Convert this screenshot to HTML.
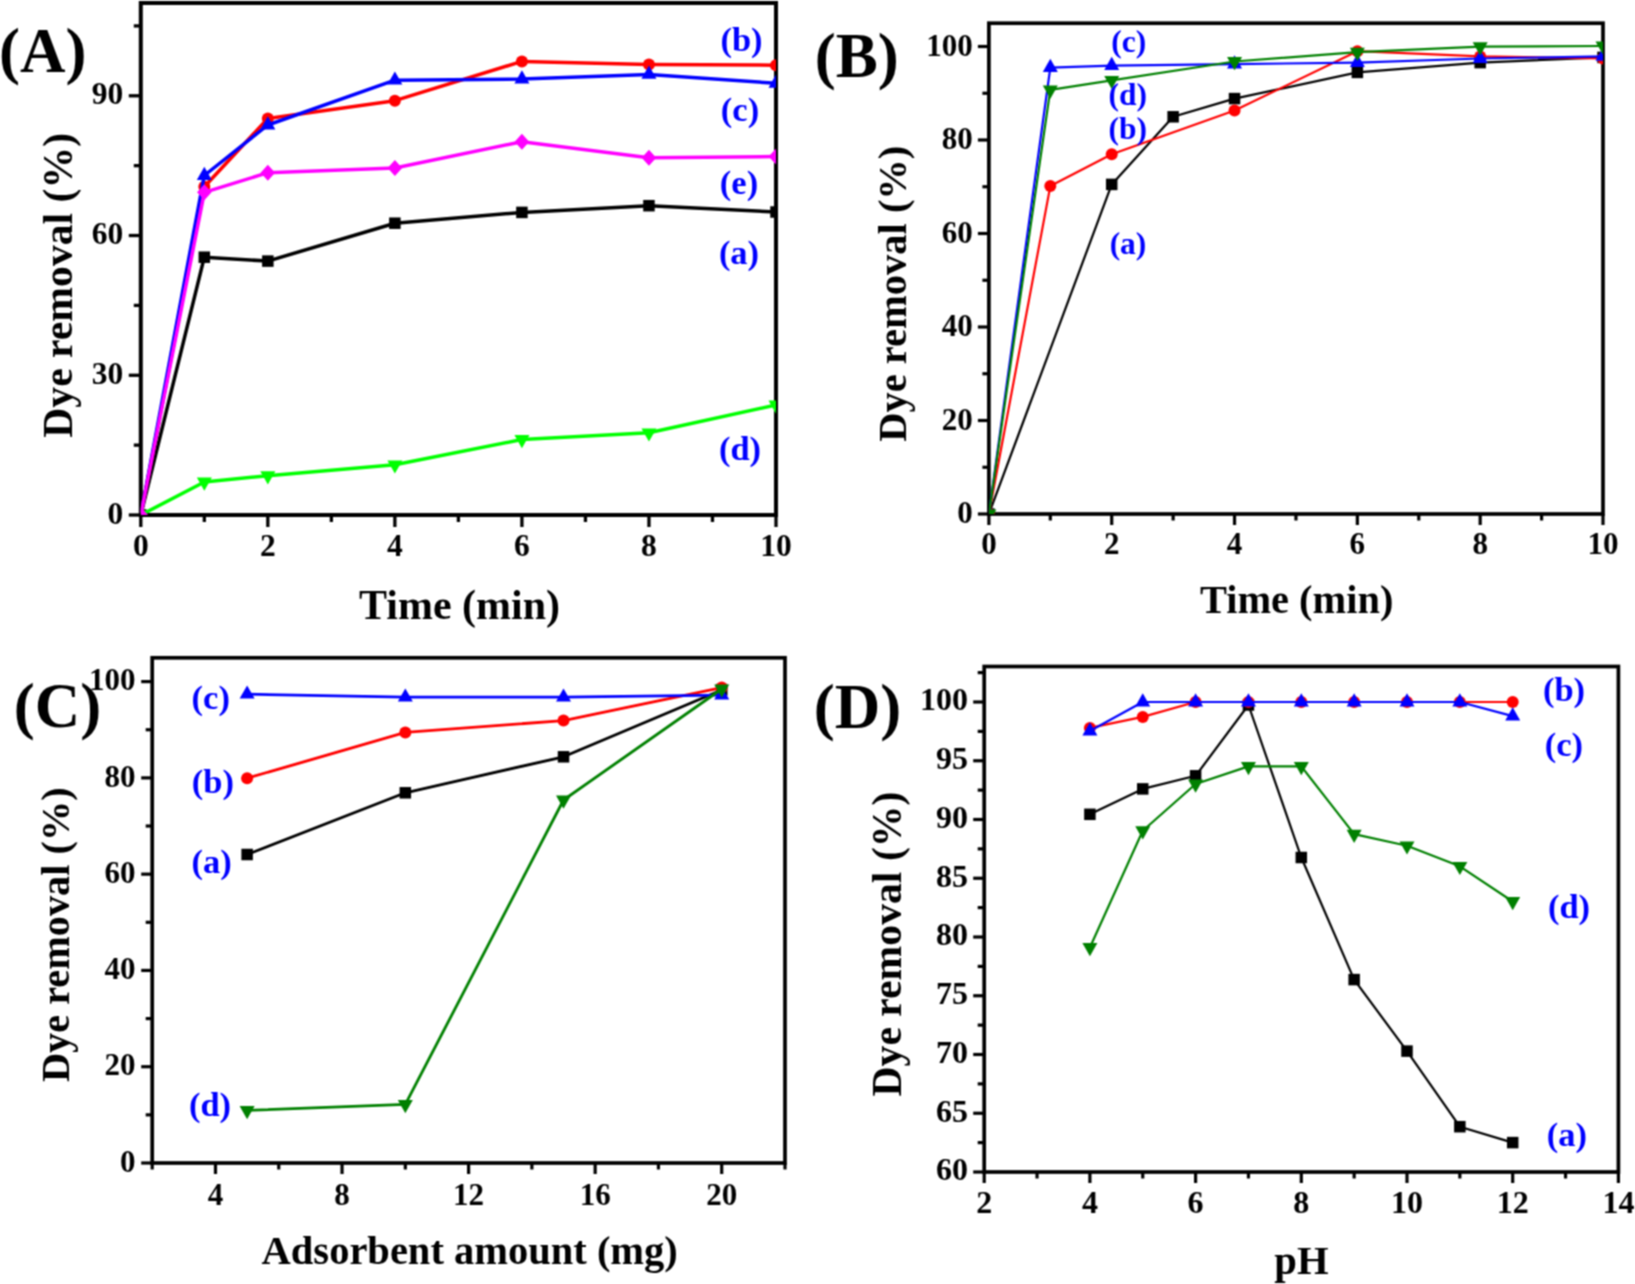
<!DOCTYPE html>
<html><head><meta charset="utf-8"><title>Dye removal</title>
<style>html,body{margin:0;padding:0;background:#fff;} svg{display:block;} text{font-family:"Liberation Serif","Times New Roman",serif;font-weight:bold;}</style>
</head><body>
<svg width="1635" height="1284" viewBox="0 0 1635 1284" font-family="Liberation Serif, Times New Roman, serif" font-weight="bold">
<defs><filter id="soft" x="0" y="0" width="1635" height="1284" filterUnits="userSpaceOnUse" color-interpolation-filters="sRGB"><feConvolveMatrix order="3" kernelMatrix="1 2 1 2 4 2 1 2 1" edgeMode="duplicate"/></filter></defs><rect width="1635" height="1284" fill="#fff"/><g filter="url(#soft)"><clipPath id="clipA"><rect x="140.8" y="3.0" width="635.2" height="512.0"/></clipPath>
<rect x="140.8" y="3.0" width="635.2" height="512.0" fill="none" stroke="#000" stroke-width="4.0" stroke-linejoin="miter"/>
<g clip-path="url(#clipA)">
<polyline points="140.80,515.00 204.32,257.20 267.84,261.10 394.88,223.20 521.92,212.40 648.96,205.70 776.00,212.00" fill="none" stroke="#000000" stroke-width="3.5" stroke-linejoin="round"/>
<rect x="135.05" y="509.25" width="11.50" height="11.50" fill="#000000"/>
<rect x="198.57" y="251.45" width="11.50" height="11.50" fill="#000000"/>
<rect x="262.09" y="255.35" width="11.50" height="11.50" fill="#000000"/>
<rect x="389.13" y="217.45" width="11.50" height="11.50" fill="#000000"/>
<rect x="516.17" y="206.65" width="11.50" height="11.50" fill="#000000"/>
<rect x="643.21" y="199.95" width="11.50" height="11.50" fill="#000000"/>
<rect x="770.25" y="206.25" width="11.50" height="11.50" fill="#000000"/>
<polyline points="140.80,515.00 204.32,186.70 267.84,118.50 394.88,100.70 521.92,61.40 648.96,64.40 776.00,65.20" fill="none" stroke="#FF0000" stroke-width="3.5" stroke-linejoin="round"/>
<circle cx="140.80" cy="515.00" r="6.00" fill="#FF0000"/>
<circle cx="204.32" cy="186.70" r="6.00" fill="#FF0000"/>
<circle cx="267.84" cy="118.50" r="6.00" fill="#FF0000"/>
<circle cx="394.88" cy="100.70" r="6.00" fill="#FF0000"/>
<circle cx="521.92" cy="61.40" r="6.00" fill="#FF0000"/>
<circle cx="648.96" cy="64.40" r="6.00" fill="#FF0000"/>
<circle cx="776.00" cy="65.20" r="6.00" fill="#FF0000"/>
<polyline points="140.80,515.00 204.32,175.50 267.84,125.00 394.88,80.20 521.92,79.10 648.96,74.40 776.00,83.30" fill="none" stroke="#0000FF" stroke-width="3.5" stroke-linejoin="round"/>
<polygon points="140.80,506.20 148.30,519.40 133.30,519.40" fill="#0000FF"/>
<polygon points="204.32,166.70 211.82,179.90 196.82,179.90" fill="#0000FF"/>
<polygon points="267.84,116.20 275.34,129.40 260.34,129.40" fill="#0000FF"/>
<polygon points="394.88,71.40 402.38,84.60 387.38,84.60" fill="#0000FF"/>
<polygon points="521.92,70.30 529.42,83.50 514.42,83.50" fill="#0000FF"/>
<polygon points="648.96,65.60 656.46,78.80 641.46,78.80" fill="#0000FF"/>
<polygon points="776.00,74.50 783.50,87.70 768.50,87.70" fill="#0000FF"/>
<polyline points="140.80,515.00 204.32,482.00 267.84,475.70 394.88,464.80 521.92,439.50 648.96,432.80 776.00,405.00" fill="none" stroke="#00FF00" stroke-width="3.5" stroke-linejoin="round"/>
<polygon points="140.80,523.80 148.30,510.60 133.30,510.60" fill="#00FF00"/>
<polygon points="204.32,490.80 211.82,477.60 196.82,477.60" fill="#00FF00"/>
<polygon points="267.84,484.50 275.34,471.30 260.34,471.30" fill="#00FF00"/>
<polygon points="394.88,473.60 402.38,460.40 387.38,460.40" fill="#00FF00"/>
<polygon points="521.92,448.30 529.42,435.10 514.42,435.10" fill="#00FF00"/>
<polygon points="648.96,441.60 656.46,428.40 641.46,428.40" fill="#00FF00"/>
<polygon points="776.00,413.80 783.50,400.60 768.50,400.60" fill="#00FF00"/>
<polyline points="140.80,515.00 204.32,192.30 267.84,172.70 394.88,168.00 521.92,141.70 648.96,157.70 776.00,156.50" fill="none" stroke="#FF00FF" stroke-width="3.5" stroke-linejoin="round"/>
<polygon points="140.80,507.00 148.05,515.00 140.80,523.00 133.55,515.00" fill="#FF00FF"/>
<polygon points="204.32,184.30 211.57,192.30 204.32,200.30 197.07,192.30" fill="#FF00FF"/>
<polygon points="267.84,164.70 275.09,172.70 267.84,180.70 260.59,172.70" fill="#FF00FF"/>
<polygon points="394.88,160.00 402.13,168.00 394.88,176.00 387.63,168.00" fill="#FF00FF"/>
<polygon points="521.92,133.70 529.17,141.70 521.92,149.70 514.67,141.70" fill="#FF00FF"/>
<polygon points="648.96,149.70 656.21,157.70 648.96,165.70 641.71,157.70" fill="#FF00FF"/>
<polygon points="776.00,148.50 783.25,156.50 776.00,164.50 768.75,156.50" fill="#FF00FF"/>
</g>
<line x1="140.80" y1="515.00" x2="140.80" y2="527.00" stroke="#000" stroke-width="3.3"/>
<line x1="204.32" y1="515.00" x2="204.32" y2="522.00" stroke="#000" stroke-width="3.3"/>
<line x1="267.84" y1="515.00" x2="267.84" y2="527.00" stroke="#000" stroke-width="3.3"/>
<line x1="331.36" y1="515.00" x2="331.36" y2="522.00" stroke="#000" stroke-width="3.3"/>
<line x1="394.88" y1="515.00" x2="394.88" y2="527.00" stroke="#000" stroke-width="3.3"/>
<line x1="458.40" y1="515.00" x2="458.40" y2="522.00" stroke="#000" stroke-width="3.3"/>
<line x1="521.92" y1="515.00" x2="521.92" y2="527.00" stroke="#000" stroke-width="3.3"/>
<line x1="585.44" y1="515.00" x2="585.44" y2="522.00" stroke="#000" stroke-width="3.3"/>
<line x1="648.96" y1="515.00" x2="648.96" y2="527.00" stroke="#000" stroke-width="3.3"/>
<line x1="712.48" y1="515.00" x2="712.48" y2="522.00" stroke="#000" stroke-width="3.3"/>
<line x1="776.00" y1="515.00" x2="776.00" y2="527.00" stroke="#000" stroke-width="3.3"/>
<line x1="140.80" y1="515.00" x2="128.80" y2="515.00" stroke="#000" stroke-width="3.3"/>
<line x1="140.80" y1="445.13" x2="133.80" y2="445.13" stroke="#000" stroke-width="3.3"/>
<line x1="140.80" y1="375.27" x2="128.80" y2="375.27" stroke="#000" stroke-width="3.3"/>
<line x1="140.80" y1="305.40" x2="133.80" y2="305.40" stroke="#000" stroke-width="3.3"/>
<line x1="140.80" y1="235.53" x2="128.80" y2="235.53" stroke="#000" stroke-width="3.3"/>
<line x1="140.80" y1="165.67" x2="133.80" y2="165.67" stroke="#000" stroke-width="3.3"/>
<line x1="140.80" y1="95.80" x2="128.80" y2="95.80" stroke="#000" stroke-width="3.3"/>
<line x1="140.80" y1="25.93" x2="133.80" y2="25.93" stroke="#000" stroke-width="3.3"/>
<text x="140.80" y="555.50" font-size="31.5" fill="#000" text-anchor="middle" >0</text>
<text x="267.84" y="555.50" font-size="31.5" fill="#000" text-anchor="middle" >2</text>
<text x="394.88" y="555.50" font-size="31.5" fill="#000" text-anchor="middle" >4</text>
<text x="521.92" y="555.50" font-size="31.5" fill="#000" text-anchor="middle" >6</text>
<text x="648.96" y="555.50" font-size="31.5" fill="#000" text-anchor="middle" >8</text>
<text x="776.00" y="555.50" font-size="31.5" fill="#000" text-anchor="middle" >10</text>
<text x="123.30" y="523.50" font-size="31.5" fill="#000" text-anchor="end" >0</text>
<text x="123.30" y="383.77" font-size="31.5" fill="#000" text-anchor="end" >30</text>
<text x="123.30" y="244.03" font-size="31.5" fill="#000" text-anchor="end" >60</text>
<text x="123.30" y="104.30" font-size="31.5" fill="#000" text-anchor="end" >90</text>
<text x="-1.10" y="72.00" font-size="63" fill="#000" text-anchor="start" >(A)</text>
<text x="359.00" y="618.50" font-size="42" fill="#000" text-anchor="start" >Time (min)</text>
<text x="72.20" y="437.80" font-size="41.7" fill="#000" text-anchor="start" transform="rotate(-90 72.2 437.8)">Dye removal (%)</text>
<text x="741.50" y="51.00" font-size="34.5" fill="#0000FF" text-anchor="middle" >(b)</text>
<text x="740.00" y="121.00" font-size="34.5" fill="#0000FF" text-anchor="middle" >(c)</text>
<text x="739.00" y="194.00" font-size="34.5" fill="#0000FF" text-anchor="middle" >(e)</text>
<text x="739.00" y="264.00" font-size="34.5" fill="#0000FF" text-anchor="middle" >(a)</text>
<text x="740.00" y="460.00" font-size="34.5" fill="#0000FF" text-anchor="middle" >(d)</text>
<clipPath id="clipB"><rect x="988.9" y="23.2" width="614.1" height="490.8"/></clipPath>
<rect x="988.9" y="23.2" width="614.1" height="490.8" fill="none" stroke="#000" stroke-width="3.7" stroke-linejoin="miter"/>
<g clip-path="url(#clipB)">
<polyline points="988.90,514.00 1111.72,184.40 1173.13,116.80 1234.54,98.60 1357.36,72.40 1480.18,62.60 1603.00,57.40" fill="none" stroke="#000000" stroke-width="2.2" stroke-linejoin="round"/>
<rect x="983.15" y="508.25" width="11.50" height="11.50" fill="#000000"/>
<rect x="1105.97" y="178.65" width="11.50" height="11.50" fill="#000000"/>
<rect x="1167.38" y="111.05" width="11.50" height="11.50" fill="#000000"/>
<rect x="1228.79" y="92.85" width="11.50" height="11.50" fill="#000000"/>
<rect x="1351.61" y="66.65" width="11.50" height="11.50" fill="#000000"/>
<rect x="1474.43" y="56.85" width="11.50" height="11.50" fill="#000000"/>
<rect x="1597.25" y="51.65" width="11.50" height="11.50" fill="#000000"/>
<polyline points="988.90,514.00 1050.31,186.10 1111.72,154.30 1234.54,110.50 1357.36,51.20 1480.18,56.40 1603.00,58.50" fill="none" stroke="#FF0000" stroke-width="2.2" stroke-linejoin="round"/>
<circle cx="988.90" cy="514.00" r="6.00" fill="#FF0000"/>
<circle cx="1050.31" cy="186.10" r="6.00" fill="#FF0000"/>
<circle cx="1111.72" cy="154.30" r="6.00" fill="#FF0000"/>
<circle cx="1234.54" cy="110.50" r="6.00" fill="#FF0000"/>
<circle cx="1357.36" cy="51.20" r="6.00" fill="#FF0000"/>
<circle cx="1480.18" cy="56.40" r="6.00" fill="#FF0000"/>
<circle cx="1603.00" cy="58.50" r="6.00" fill="#FF0000"/>
<polyline points="988.90,514.00 1050.31,67.60 1111.72,65.60 1234.54,64.10 1357.36,62.60 1480.18,58.50 1603.00,56.40" fill="none" stroke="#0000FF" stroke-width="2.2" stroke-linejoin="round"/>
<polygon points="988.90,505.20 996.40,518.40 981.40,518.40" fill="#0000FF"/>
<polygon points="1050.31,58.80 1057.81,72.00 1042.81,72.00" fill="#0000FF"/>
<polygon points="1111.72,56.80 1119.22,70.00 1104.22,70.00" fill="#0000FF"/>
<polygon points="1234.54,55.30 1242.04,68.50 1227.04,68.50" fill="#0000FF"/>
<polygon points="1357.36,53.80 1364.86,67.00 1349.86,67.00" fill="#0000FF"/>
<polygon points="1480.18,49.70 1487.68,62.90 1472.68,62.90" fill="#0000FF"/>
<polygon points="1603.00,47.60 1610.50,60.80 1595.50,60.80" fill="#0000FF"/>
<polyline points="988.90,514.00 1050.31,89.90 1111.72,80.30 1234.54,61.50 1357.36,52.20 1480.18,46.60 1603.00,46.00" fill="none" stroke="#008000" stroke-width="2.2" stroke-linejoin="round"/>
<polygon points="988.90,522.80 996.40,509.60 981.40,509.60" fill="#008000"/>
<polygon points="1050.31,98.70 1057.81,85.50 1042.81,85.50" fill="#008000"/>
<polygon points="1111.72,89.10 1119.22,75.90 1104.22,75.90" fill="#008000"/>
<polygon points="1234.54,70.30 1242.04,57.10 1227.04,57.10" fill="#008000"/>
<polygon points="1357.36,61.00 1364.86,47.80 1349.86,47.80" fill="#008000"/>
<polygon points="1480.18,55.40 1487.68,42.20 1472.68,42.20" fill="#008000"/>
<polygon points="1603.00,54.80 1610.50,41.60 1595.50,41.60" fill="#008000"/>
</g>
<line x1="988.90" y1="514.00" x2="988.90" y2="525.00" stroke="#000" stroke-width="3.2"/>
<line x1="1050.31" y1="514.00" x2="1050.31" y2="520.50" stroke="#000" stroke-width="3.2"/>
<line x1="1111.72" y1="514.00" x2="1111.72" y2="525.00" stroke="#000" stroke-width="3.2"/>
<line x1="1173.13" y1="514.00" x2="1173.13" y2="520.50" stroke="#000" stroke-width="3.2"/>
<line x1="1234.54" y1="514.00" x2="1234.54" y2="525.00" stroke="#000" stroke-width="3.2"/>
<line x1="1295.95" y1="514.00" x2="1295.95" y2="520.50" stroke="#000" stroke-width="3.2"/>
<line x1="1357.36" y1="514.00" x2="1357.36" y2="525.00" stroke="#000" stroke-width="3.2"/>
<line x1="1418.77" y1="514.00" x2="1418.77" y2="520.50" stroke="#000" stroke-width="3.2"/>
<line x1="1480.18" y1="514.00" x2="1480.18" y2="525.00" stroke="#000" stroke-width="3.2"/>
<line x1="1541.59" y1="514.00" x2="1541.59" y2="520.50" stroke="#000" stroke-width="3.2"/>
<line x1="1603.00" y1="514.00" x2="1603.00" y2="525.00" stroke="#000" stroke-width="3.2"/>
<line x1="988.90" y1="514.00" x2="977.90" y2="514.00" stroke="#000" stroke-width="3.2"/>
<line x1="988.90" y1="467.25" x2="982.40" y2="467.25" stroke="#000" stroke-width="3.2"/>
<line x1="988.90" y1="420.50" x2="977.90" y2="420.50" stroke="#000" stroke-width="3.2"/>
<line x1="988.90" y1="373.75" x2="982.40" y2="373.75" stroke="#000" stroke-width="3.2"/>
<line x1="988.90" y1="327.00" x2="977.90" y2="327.00" stroke="#000" stroke-width="3.2"/>
<line x1="988.90" y1="280.25" x2="982.40" y2="280.25" stroke="#000" stroke-width="3.2"/>
<line x1="988.90" y1="233.50" x2="977.90" y2="233.50" stroke="#000" stroke-width="3.2"/>
<line x1="988.90" y1="186.75" x2="982.40" y2="186.75" stroke="#000" stroke-width="3.2"/>
<line x1="988.90" y1="140.00" x2="977.90" y2="140.00" stroke="#000" stroke-width="3.2"/>
<line x1="988.90" y1="93.25" x2="982.40" y2="93.25" stroke="#000" stroke-width="3.2"/>
<line x1="988.90" y1="46.50" x2="977.90" y2="46.50" stroke="#000" stroke-width="3.2"/>
<text x="988.90" y="554.00" font-size="31" fill="#000" text-anchor="middle" >0</text>
<text x="1111.72" y="554.00" font-size="31" fill="#000" text-anchor="middle" >2</text>
<text x="1234.54" y="554.00" font-size="31" fill="#000" text-anchor="middle" >4</text>
<text x="1357.36" y="554.00" font-size="31" fill="#000" text-anchor="middle" >6</text>
<text x="1480.18" y="554.00" font-size="31" fill="#000" text-anchor="middle" >8</text>
<text x="1603.00" y="554.00" font-size="31" fill="#000" text-anchor="middle" >10</text>
<text x="972.70" y="523.30" font-size="31" fill="#000" text-anchor="end" >0</text>
<text x="972.70" y="429.80" font-size="31" fill="#000" text-anchor="end" >20</text>
<text x="972.70" y="336.30" font-size="31" fill="#000" text-anchor="end" >40</text>
<text x="972.70" y="242.80" font-size="31" fill="#000" text-anchor="end" >60</text>
<text x="972.70" y="149.30" font-size="31" fill="#000" text-anchor="end" >80</text>
<text x="972.70" y="55.80" font-size="31" fill="#000" text-anchor="end" >100</text>
<text x="814.80" y="77.30" font-size="63" fill="#000" text-anchor="start" >(B)</text>
<text x="1200.00" y="613.00" font-size="40.4" fill="#000" text-anchor="start" >Time (min)</text>
<text x="906.30" y="441.80" font-size="40.5" fill="#000" text-anchor="start" transform="rotate(-90 906.3 441.8)">Dye removal (%)</text>
<text x="1128.70" y="52.00" font-size="31.5" fill="#0000FF" text-anchor="middle" >(c)</text>
<text x="1127.70" y="105.00" font-size="31.5" fill="#0000FF" text-anchor="middle" >(d)</text>
<text x="1127.70" y="139.00" font-size="31.5" fill="#0000FF" text-anchor="middle" >(b)</text>
<text x="1128.00" y="254.00" font-size="31.5" fill="#0000FF" text-anchor="middle" >(a)</text>
<clipPath id="clipC"><rect x="152.2" y="657.8" width="632.8" height="505.20000000000005"/></clipPath>
<rect x="152.2" y="657.8" width="632.8" height="505.20000000000005" fill="none" stroke="#000" stroke-width="3.7" stroke-linejoin="miter"/>
<g clip-path="url(#clipC)">
<polyline points="247.12,854.50 405.32,792.80 563.52,756.80 721.72,690.00" fill="none" stroke="#000000" stroke-width="2.8" stroke-linejoin="round"/>
<rect x="241.37" y="848.75" width="11.50" height="11.50" fill="#000000"/>
<rect x="399.57" y="787.05" width="11.50" height="11.50" fill="#000000"/>
<rect x="557.77" y="751.05" width="11.50" height="11.50" fill="#000000"/>
<rect x="715.97" y="684.25" width="11.50" height="11.50" fill="#000000"/>
<polyline points="247.12,778.20 405.32,732.40 563.52,720.60 721.72,687.60" fill="none" stroke="#FF0000" stroke-width="2.8" stroke-linejoin="round"/>
<circle cx="247.12" cy="778.20" r="6.00" fill="#FF0000"/>
<circle cx="405.32" cy="732.40" r="6.00" fill="#FF0000"/>
<circle cx="563.52" cy="720.60" r="6.00" fill="#FF0000"/>
<circle cx="721.72" cy="687.60" r="6.00" fill="#FF0000"/>
<polyline points="247.12,694.20 405.32,697.20 563.52,697.20 721.72,695.20" fill="none" stroke="#0000FF" stroke-width="2.8" stroke-linejoin="round"/>
<polygon points="247.12,685.40 254.62,698.60 239.62,698.60" fill="#0000FF"/>
<polygon points="405.32,688.40 412.82,701.60 397.82,701.60" fill="#0000FF"/>
<polygon points="563.52,688.40 571.02,701.60 556.02,701.60" fill="#0000FF"/>
<polygon points="721.72,686.40 729.22,699.60 714.22,699.60" fill="#0000FF"/>
<polyline points="247.12,1110.40 405.32,1104.40 563.52,800.00 721.72,689.00" fill="none" stroke="#008000" stroke-width="2.8" stroke-linejoin="round"/>
<polygon points="247.12,1119.20 254.62,1106.00 239.62,1106.00" fill="#008000"/>
<polygon points="405.32,1113.20 412.82,1100.00 397.82,1100.00" fill="#008000"/>
<polygon points="563.52,808.80 571.02,795.60 556.02,795.60" fill="#008000"/>
<polygon points="721.72,697.80 729.22,684.60 714.22,684.60" fill="#008000"/>
</g>
<line x1="152.20" y1="1163.00" x2="152.20" y2="1169.50" stroke="#000" stroke-width="3.2"/>
<line x1="215.48" y1="1163.00" x2="215.48" y2="1174.00" stroke="#000" stroke-width="3.2"/>
<line x1="278.76" y1="1163.00" x2="278.76" y2="1169.50" stroke="#000" stroke-width="3.2"/>
<line x1="342.04" y1="1163.00" x2="342.04" y2="1174.00" stroke="#000" stroke-width="3.2"/>
<line x1="405.32" y1="1163.00" x2="405.32" y2="1169.50" stroke="#000" stroke-width="3.2"/>
<line x1="468.60" y1="1163.00" x2="468.60" y2="1174.00" stroke="#000" stroke-width="3.2"/>
<line x1="531.88" y1="1163.00" x2="531.88" y2="1169.50" stroke="#000" stroke-width="3.2"/>
<line x1="595.16" y1="1163.00" x2="595.16" y2="1174.00" stroke="#000" stroke-width="3.2"/>
<line x1="658.44" y1="1163.00" x2="658.44" y2="1169.50" stroke="#000" stroke-width="3.2"/>
<line x1="721.72" y1="1163.00" x2="721.72" y2="1174.00" stroke="#000" stroke-width="3.2"/>
<line x1="785.00" y1="1163.00" x2="785.00" y2="1169.50" stroke="#000" stroke-width="3.2"/>
<line x1="152.20" y1="1163.00" x2="141.20" y2="1163.00" stroke="#000" stroke-width="3.2"/>
<line x1="152.20" y1="1114.86" x2="145.70" y2="1114.86" stroke="#000" stroke-width="3.2"/>
<line x1="152.20" y1="1066.72" x2="141.20" y2="1066.72" stroke="#000" stroke-width="3.2"/>
<line x1="152.20" y1="1018.58" x2="145.70" y2="1018.58" stroke="#000" stroke-width="3.2"/>
<line x1="152.20" y1="970.44" x2="141.20" y2="970.44" stroke="#000" stroke-width="3.2"/>
<line x1="152.20" y1="922.30" x2="145.70" y2="922.30" stroke="#000" stroke-width="3.2"/>
<line x1="152.20" y1="874.16" x2="141.20" y2="874.16" stroke="#000" stroke-width="3.2"/>
<line x1="152.20" y1="826.02" x2="145.70" y2="826.02" stroke="#000" stroke-width="3.2"/>
<line x1="152.20" y1="777.88" x2="141.20" y2="777.88" stroke="#000" stroke-width="3.2"/>
<line x1="152.20" y1="729.74" x2="145.70" y2="729.74" stroke="#000" stroke-width="3.2"/>
<line x1="152.20" y1="681.60" x2="141.20" y2="681.60" stroke="#000" stroke-width="3.2"/>
<text x="215.48" y="1204.50" font-size="31" fill="#000" text-anchor="middle" >4</text>
<text x="342.04" y="1204.50" font-size="31" fill="#000" text-anchor="middle" >8</text>
<text x="468.60" y="1204.50" font-size="31" fill="#000" text-anchor="middle" >12</text>
<text x="595.16" y="1204.50" font-size="31" fill="#000" text-anchor="middle" >16</text>
<text x="721.72" y="1204.50" font-size="31" fill="#000" text-anchor="middle" >20</text>
<text x="135.40" y="1171.70" font-size="31" fill="#000" text-anchor="end" >0</text>
<text x="135.40" y="1075.42" font-size="31" fill="#000" text-anchor="end" >20</text>
<text x="135.40" y="979.14" font-size="31" fill="#000" text-anchor="end" >40</text>
<text x="135.40" y="882.86" font-size="31" fill="#000" text-anchor="end" >60</text>
<text x="135.40" y="786.58" font-size="31" fill="#000" text-anchor="end" >80</text>
<text x="135.40" y="690.30" font-size="31" fill="#000" text-anchor="end" >100</text>
<text x="13.80" y="726.90" font-size="63" fill="#000" text-anchor="start" >(C)</text>
<text x="261.60" y="1264.00" font-size="40.5" fill="#000" text-anchor="start" >Adsorbent amount (mg)</text>
<text x="68.60" y="1082.00" font-size="40.3" fill="#000" text-anchor="start" transform="rotate(-90 68.6 1082.0)">Dye removal (%)</text>
<text x="210.75" y="709.00" font-size="34.5" fill="#0000FF" text-anchor="middle" >(c)</text>
<text x="212.80" y="792.90" font-size="34.5" fill="#0000FF" text-anchor="middle" >(b)</text>
<text x="211.60" y="873.40" font-size="34.5" fill="#0000FF" text-anchor="middle" >(a)</text>
<text x="210.00" y="1116.30" font-size="34.5" fill="#0000FF" text-anchor="middle" >(d)</text>
<clipPath id="clipD"><rect x="984.2" y="666.5" width="634.2" height="505.5"/></clipPath>
<rect x="984.2" y="666.5" width="634.2" height="505.5" fill="none" stroke="#000" stroke-width="3.7" stroke-linejoin="miter"/>
<g clip-path="url(#clipD)">
<polyline points="1089.90,814.30 1142.75,788.90 1195.60,775.80 1248.45,705.00 1301.30,857.50 1354.15,979.60 1407.00,1051.10 1459.85,1126.70 1512.70,1142.60" fill="none" stroke="#000000" stroke-width="2.2" stroke-linejoin="round"/>
<rect x="1084.15" y="808.55" width="11.50" height="11.50" fill="#000000"/>
<rect x="1137.00" y="783.15" width="11.50" height="11.50" fill="#000000"/>
<rect x="1189.85" y="770.05" width="11.50" height="11.50" fill="#000000"/>
<rect x="1242.70" y="699.25" width="11.50" height="11.50" fill="#000000"/>
<rect x="1295.55" y="851.75" width="11.50" height="11.50" fill="#000000"/>
<rect x="1348.40" y="973.85" width="11.50" height="11.50" fill="#000000"/>
<rect x="1401.25" y="1045.35" width="11.50" height="11.50" fill="#000000"/>
<rect x="1454.10" y="1120.95" width="11.50" height="11.50" fill="#000000"/>
<rect x="1506.95" y="1136.85" width="11.50" height="11.50" fill="#000000"/>
<polyline points="1089.90,727.90 1142.75,716.90 1195.60,702.00 1248.45,702.00 1301.30,702.00 1354.15,702.00 1407.00,702.00 1459.85,702.00 1512.70,702.00" fill="none" stroke="#FF0000" stroke-width="2.2" stroke-linejoin="round"/>
<circle cx="1089.90" cy="727.90" r="6.00" fill="#FF0000"/>
<circle cx="1142.75" cy="716.90" r="6.00" fill="#FF0000"/>
<circle cx="1195.60" cy="702.00" r="6.00" fill="#FF0000"/>
<circle cx="1248.45" cy="702.00" r="6.00" fill="#FF0000"/>
<circle cx="1301.30" cy="702.00" r="6.00" fill="#FF0000"/>
<circle cx="1354.15" cy="702.00" r="6.00" fill="#FF0000"/>
<circle cx="1407.00" cy="702.00" r="6.00" fill="#FF0000"/>
<circle cx="1459.85" cy="702.00" r="6.00" fill="#FF0000"/>
<circle cx="1512.70" cy="702.00" r="6.00" fill="#FF0000"/>
<polyline points="1089.90,731.00 1142.75,702.00 1195.60,702.00 1248.45,702.00 1301.30,702.00 1354.15,702.00 1407.00,702.00 1459.85,702.00 1512.70,716.10" fill="none" stroke="#0000FF" stroke-width="2.2" stroke-linejoin="round"/>
<polygon points="1089.90,722.20 1097.40,735.40 1082.40,735.40" fill="#0000FF"/>
<polygon points="1142.75,693.20 1150.25,706.40 1135.25,706.40" fill="#0000FF"/>
<polygon points="1195.60,693.20 1203.10,706.40 1188.10,706.40" fill="#0000FF"/>
<polygon points="1248.45,693.20 1255.95,706.40 1240.95,706.40" fill="#0000FF"/>
<polygon points="1301.30,693.20 1308.80,706.40 1293.80,706.40" fill="#0000FF"/>
<polygon points="1354.15,693.20 1361.65,706.40 1346.65,706.40" fill="#0000FF"/>
<polygon points="1407.00,693.20 1414.50,706.40 1399.50,706.40" fill="#0000FF"/>
<polygon points="1459.85,693.20 1467.35,706.40 1452.35,706.40" fill="#0000FF"/>
<polygon points="1512.70,707.30 1520.20,720.50 1505.20,720.50" fill="#0000FF"/>
<polyline points="1089.90,947.50 1142.75,830.70 1195.60,784.00 1248.45,766.40 1301.30,766.40 1354.15,834.10 1407.00,845.80 1459.85,866.30 1512.70,901.50" fill="none" stroke="#008000" stroke-width="2.2" stroke-linejoin="round"/>
<polygon points="1089.90,956.30 1097.40,943.10 1082.40,943.10" fill="#008000"/>
<polygon points="1142.75,839.50 1150.25,826.30 1135.25,826.30" fill="#008000"/>
<polygon points="1195.60,792.80 1203.10,779.60 1188.10,779.60" fill="#008000"/>
<polygon points="1248.45,775.20 1255.95,762.00 1240.95,762.00" fill="#008000"/>
<polygon points="1301.30,775.20 1308.80,762.00 1293.80,762.00" fill="#008000"/>
<polygon points="1354.15,842.90 1361.65,829.70 1346.65,829.70" fill="#008000"/>
<polygon points="1407.00,854.60 1414.50,841.40 1399.50,841.40" fill="#008000"/>
<polygon points="1459.85,875.10 1467.35,861.90 1452.35,861.90" fill="#008000"/>
<polygon points="1512.70,910.30 1520.20,897.10 1505.20,897.10" fill="#008000"/>
</g>
<line x1="984.20" y1="1172.00" x2="984.20" y2="1183.00" stroke="#000" stroke-width="3.2"/>
<line x1="1037.05" y1="1172.00" x2="1037.05" y2="1178.50" stroke="#000" stroke-width="3.2"/>
<line x1="1089.90" y1="1172.00" x2="1089.90" y2="1183.00" stroke="#000" stroke-width="3.2"/>
<line x1="1142.75" y1="1172.00" x2="1142.75" y2="1178.50" stroke="#000" stroke-width="3.2"/>
<line x1="1195.60" y1="1172.00" x2="1195.60" y2="1183.00" stroke="#000" stroke-width="3.2"/>
<line x1="1248.45" y1="1172.00" x2="1248.45" y2="1178.50" stroke="#000" stroke-width="3.2"/>
<line x1="1301.30" y1="1172.00" x2="1301.30" y2="1183.00" stroke="#000" stroke-width="3.2"/>
<line x1="1354.15" y1="1172.00" x2="1354.15" y2="1178.50" stroke="#000" stroke-width="3.2"/>
<line x1="1407.00" y1="1172.00" x2="1407.00" y2="1183.00" stroke="#000" stroke-width="3.2"/>
<line x1="1459.85" y1="1172.00" x2="1459.85" y2="1178.50" stroke="#000" stroke-width="3.2"/>
<line x1="1512.70" y1="1172.00" x2="1512.70" y2="1183.00" stroke="#000" stroke-width="3.2"/>
<line x1="1565.55" y1="1172.00" x2="1565.55" y2="1178.50" stroke="#000" stroke-width="3.2"/>
<line x1="1618.40" y1="1172.00" x2="1618.40" y2="1183.00" stroke="#000" stroke-width="3.2"/>
<line x1="984.20" y1="1172.00" x2="973.20" y2="1172.00" stroke="#000" stroke-width="3.2"/>
<line x1="984.20" y1="1142.62" x2="977.70" y2="1142.62" stroke="#000" stroke-width="3.2"/>
<line x1="984.20" y1="1113.25" x2="973.20" y2="1113.25" stroke="#000" stroke-width="3.2"/>
<line x1="984.20" y1="1083.88" x2="977.70" y2="1083.88" stroke="#000" stroke-width="3.2"/>
<line x1="984.20" y1="1054.50" x2="973.20" y2="1054.50" stroke="#000" stroke-width="3.2"/>
<line x1="984.20" y1="1025.12" x2="977.70" y2="1025.12" stroke="#000" stroke-width="3.2"/>
<line x1="984.20" y1="995.75" x2="973.20" y2="995.75" stroke="#000" stroke-width="3.2"/>
<line x1="984.20" y1="966.38" x2="977.70" y2="966.38" stroke="#000" stroke-width="3.2"/>
<line x1="984.20" y1="937.00" x2="973.20" y2="937.00" stroke="#000" stroke-width="3.2"/>
<line x1="984.20" y1="907.62" x2="977.70" y2="907.62" stroke="#000" stroke-width="3.2"/>
<line x1="984.20" y1="878.25" x2="973.20" y2="878.25" stroke="#000" stroke-width="3.2"/>
<line x1="984.20" y1="848.88" x2="977.70" y2="848.88" stroke="#000" stroke-width="3.2"/>
<line x1="984.20" y1="819.50" x2="973.20" y2="819.50" stroke="#000" stroke-width="3.2"/>
<line x1="984.20" y1="790.12" x2="977.70" y2="790.12" stroke="#000" stroke-width="3.2"/>
<line x1="984.20" y1="760.75" x2="973.20" y2="760.75" stroke="#000" stroke-width="3.2"/>
<line x1="984.20" y1="731.38" x2="977.70" y2="731.38" stroke="#000" stroke-width="3.2"/>
<line x1="984.20" y1="702.00" x2="973.20" y2="702.00" stroke="#000" stroke-width="3.2"/>
<line x1="984.20" y1="672.62" x2="977.70" y2="672.62" stroke="#000" stroke-width="3.2"/>
<text x="984.20" y="1213.00" font-size="32" fill="#000" text-anchor="middle" >2</text>
<text x="1089.90" y="1213.00" font-size="32" fill="#000" text-anchor="middle" >4</text>
<text x="1195.60" y="1213.00" font-size="32" fill="#000" text-anchor="middle" >6</text>
<text x="1301.30" y="1213.00" font-size="32" fill="#000" text-anchor="middle" >8</text>
<text x="1407.00" y="1213.00" font-size="32" fill="#000" text-anchor="middle" >10</text>
<text x="1512.70" y="1213.00" font-size="32" fill="#000" text-anchor="middle" >12</text>
<text x="1618.40" y="1213.00" font-size="32" fill="#000" text-anchor="middle" >14</text>
<text x="968.00" y="1180.30" font-size="32" fill="#000" text-anchor="end" >60</text>
<text x="968.00" y="1121.55" font-size="32" fill="#000" text-anchor="end" >65</text>
<text x="968.00" y="1062.80" font-size="32" fill="#000" text-anchor="end" >70</text>
<text x="968.00" y="1004.05" font-size="32" fill="#000" text-anchor="end" >75</text>
<text x="968.00" y="945.30" font-size="32" fill="#000" text-anchor="end" >80</text>
<text x="968.00" y="886.55" font-size="32" fill="#000" text-anchor="end" >85</text>
<text x="968.00" y="827.80" font-size="32" fill="#000" text-anchor="end" >90</text>
<text x="968.00" y="769.05" font-size="32" fill="#000" text-anchor="end" >95</text>
<text x="968.00" y="710.30" font-size="32" fill="#000" text-anchor="end" >100</text>
<text x="813.80" y="728.30" font-size="63" fill="#000" text-anchor="start" >(D)</text>
<text x="1274.30" y="1273.50" font-size="40.7" fill="#000" text-anchor="start" >pH</text>
<text x="900.70" y="1096.50" font-size="41.7" fill="#000" text-anchor="start" transform="rotate(-90 900.7 1096.5)">Dye removal (%)</text>
<text x="1564.00" y="700.80" font-size="34.5" fill="#0000FF" text-anchor="middle" >(b)</text>
<text x="1563.90" y="756.30" font-size="34.5" fill="#0000FF" text-anchor="middle" >(c)</text>
<text x="1569.00" y="918.00" font-size="34.5" fill="#0000FF" text-anchor="middle" >(d)</text>
<text x="1566.90" y="1145.80" font-size="34.5" fill="#0000FF" text-anchor="middle" >(a)</text>
</g></svg>
</body></html>
